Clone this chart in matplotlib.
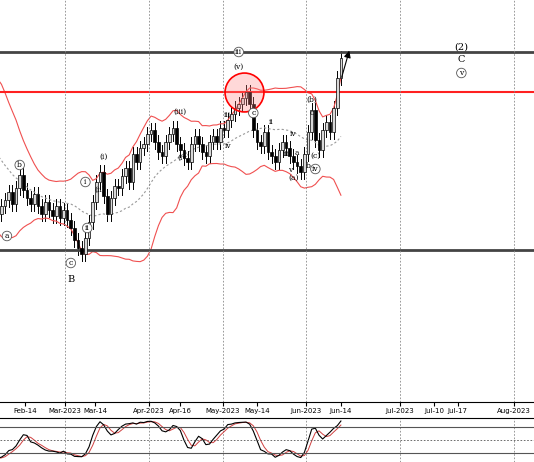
import numpy as np, pandas as pd
import matplotlib
matplotlib.use("Agg")
import matplotlib.pyplot as plt
from matplotlib.patches import Rectangle

jan = [300,305,298,292,300,296,288,280,284,272,262,255,248,240,232,225,218,212,205,200,198]
feb = [195,186,194,200,208,196,212,225,210,202,196,206,194,186,198,190,184,194,182,190]
mar = [180,172,160,152,146,162,178,198,218,228,204,186,202,214,212,224,232,218,246,238,252,256,266]
apr = [270,258,248,244,258,266,272,256,250,242,238,256,264,256,248,244,258,264,258,272]
may = [270,280,286,292,296,302,308,296,270,258,254,268,248,244,238,250,258,252,244,238,234,228,246]
jun = [268,290,260,250,270,278,268,292,322,342]
closes = np.array(jan + feb + mar + apr + may + jun, float)
n = len(closes)
opens = np.r_[closes[0], closes[:-1]]
highs = np.maximum(opens, closes) + 7
lows = np.minimum(opens, closes) - 7

s = pd.Series(closes)
mid = s.rolling(20, min_periods=1).mean()
sd = s.rolling(20, min_periods=2).std().fillna(20)
up, lo = mid + 2 * sd, mid - 2 * sd
hh = pd.Series(highs).rolling(14, min_periods=1).max()
ll = pd.Series(lows).rolling(14, min_periods=1).min()
k = (100 * (s - ll) / (hh - ll)).rolling(3, min_periods=1).mean()
d = k.rolling(3, min_periods=1).mean()

J = n - 1
x = np.arange(n)
x0, x1 = J - 93.4, J + 52.9

fig = plt.figure(figsize=(5.34, 4.62), dpi=100)
ax = fig.add_axes([0, 60/462, 1, 402/462])
ax2 = fig.add_axes([0, 0, 1, 44/462])

for i in x:
    c = "#d8d8d8" if closes[i] >= opens[i] else "black"
    ax.plot([i, i], [lows[i], highs[i]], color="black", lw=0.7, zorder=2)
    ax.add_patch(Rectangle((i - 0.36, min(opens[i], closes[i])), 0.72,
                 max(abs(closes[i] - opens[i]), 0.8), fc=c, ec="black", lw=0.5, zorder=3))
ax.plot(x, up, color="#f05050", lw=0.8)
ax.plot(x, lo, color="#f05050", lw=0.8)
ax.plot(x, mid, color="#999999", lw=0.8, ls=(0, (2, 2)))

ax.axhline(348, color="#444444", lw=2)
ax.axhline(150, color="#444444", lw=2)
ax.axhline(308, color="#ff2020", lw=1.5)

ticks = {"Feb-14": J-86.6, "Mar-2023": J-75.6, "Mar-14": J-67.4, "Apr-2023": J-52.6, "Apr-16": J-44,
         "May-2023": J-32.3, "May-14": J-23, "Jun-2023": J-9.6, "Jun-14": J, "Jul-2023": J+16.2,
         "Jul-10": J+25.5, "Jul-17": J+32, "Aug-2023": J+47.4}
for lbl, p in ticks.items():
    if lbl.endswith("2023"):
        ax.axvline(p, color="#888888", lw=0.6, ls=(0, (2, 2)))
        ax2.axvline(p, color="#888888", lw=0.6, ls=(0, (2, 2)))
ax.set_xticks(list(ticks.values()))
ax.set_xticklabels(list(ticks.keys()), fontsize=5)
ax.tick_params(axis="x", length=3, pad=1)
ax.set_yticks([])
ax.set_xlim(x0, x1); ax.set_ylim(-2, 400)
for sp in ["left", "right", "top"]:
    ax.spines[sp].set_visible(False)

ax.plot([J - 26.5], [308], "o", ms=28, mfc=(1, 0.5, 0.5, 0.3), mec="red", mew=1.2, zorder=5)
ax.annotate("", xy=(J + 2.5, 352), xytext=(J, 320),
            arrowprops=dict(arrowstyle="-|>", color="black", lw=0.8))

circ = dict(boxstyle="circle,pad=0.1", fc="white", ec="#555555", lw=0.6)
labels = [("a", -91.5, 164, True), ("b", -88, 235, True), ("c", -74, 137, True), ("B", -74, 121, False),
          ("i", -70, 218, True), ("ii", -69.5, 172, True), ("(i)", -65, 243, False), ("(ii)", -66, 210, False),
          ("(iii)", -44, 288, False), ("(iv)", -43, 242, False), ("iii", -31, 285, False),
          ("iv", -31, 254, False), ("(v)", -28, 333, False), ("iii", -28, 348, True),
          ("c", -24, 287, True), ("ii", -19, 278, False), ("i", -22, 256, False),
          ("iii", -15, 246, False), ("iv", -13, 266, False), ("v", -14, 230, False),
          ("(a)", -13, 222, False), ("a", -12, 247, False), ("b", -9, 234, False),
          ("(b)", -8, 300, False), ("c", -8, 287, False), ("(c)", -7, 244, False), ("iv", -7, 231, True),
          ("(2)", 33, 353, False), ("C", 33, 340, False), ("v", 33, 327, True)]
for t, dx, yv, c in labels:
    ax.text(J + dx, yv, t, fontsize=7 if t in ("B", "C", "(2)") else 5.5, family="DejaVu Serif",
            ha="center", va="center", bbox=circ if c else None, zorder=6)

ax2.plot(x, d, color="#d04040", lw=0.7)
ax2.plot(x, k, color="black", lw=0.8)
ax2.axhline(80, color="#555555", lw=0.8)
ax2.axhline(20, color="#555555", lw=0.8)
ax2.axhline(50, color="#555555", lw=0.6, ls=(0, (2, 2)))
ax2.set_xlim(x0, x1); ax2.set_ylim(-2, 100)
ax2.set_xticks([]); ax2.set_yticks([])
for sp in ["left", "right", "bottom"]:
    ax2.spines[sp].set_visible(False)
fig.savefig("out.png", dpi=100)
